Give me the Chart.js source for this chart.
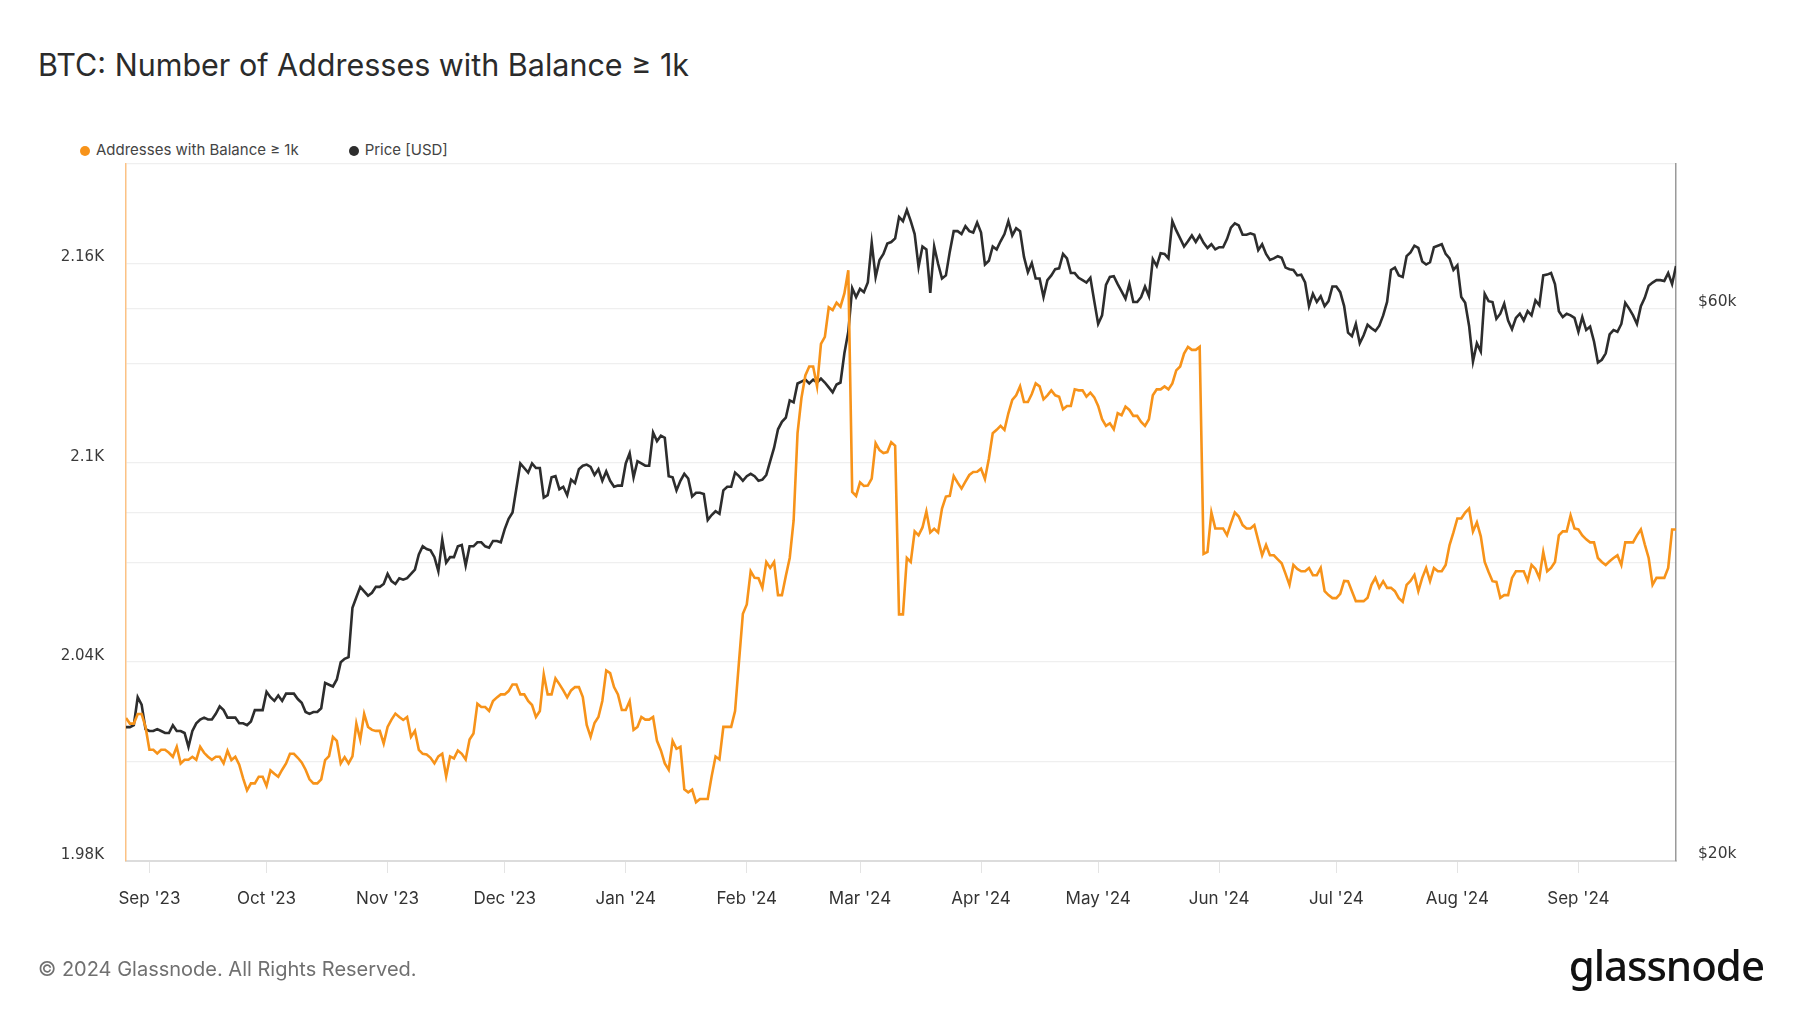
<!DOCTYPE html>
<html>
<head>
<meta charset="utf-8">
<script src="https://cdn.jsdelivr.net/npm/chart.js@4.4.1/dist/chart.umd.min.js"></script>
<style>
  body { margin: 0; width: 1800px; height: 1013px; background: #fff; position: relative; overflow: hidden; font-family: Inter, "Noto Sans", sans-serif; }
  #wrap { position: absolute; left: 0; top: 0; width: 1800px; height: 1013px; }
  #title { position: absolute; left: 38px; top: 46px; font-size: 30.5px; color: #2b2b2b; }
  #legend { position: absolute; left: 80px; top: 140px; font-size: 15px; color: #444; display: flex; gap: 50px; }
  #legend span.dot { display: inline-block; width: 10px; height: 10px; border-radius: 50%; margin-right: 6px; vertical-align: -0.5px; }
  #footer { position: absolute; left: 38px; top: 957px; font-size: 20px; color: #707070; }
  #logo { position: absolute; right: 36px; top: 936px; font-size: 42px; font-weight: 500; color: #111; letter-spacing: -1px; font-family: "Noto Sans", sans-serif; }
</style>
</head>
<body>
<div id="title">BTC: Number of Addresses with Balance ≥ 1k</div>
<div id="legend">
  <div><span class="dot" style="background:#f7931a"></span>Addresses with Balance ≥ 1k</div>
  <div><span class="dot" style="background:#2d2d2d"></span>Price [USD]</div>
</div>
<div id="wrap"><canvas id="myChart"></canvas></div>
<div id="footer">© 2024 Glassnode. All Rights Reserved.</div>
<div id="logo">glassnode</div>
<script>
// daily values starting 2023-08-26
const startDate = "2023-08-26";

const addresses = [
  2023.1, 2021.4, 2021.4, 2024.3, 2024.3, 2020.4, 2013.5, 2013.5, 2012.4, 2013.5,
  2013.5, 2012.6, 2011.4, 2014.4, 2009.4, 2010.5, 2010.5, 2011.4, 2010.5, 2014.4,
  2012.6, 2011.4, 2010.5, 2011.4, 2011.4, 2009.4, 2013.2, 2010.4, 2011.4, 2009.0,
  2004.9, 2001.3, 2003.4, 2003.4, 2005.4, 2005.4, 2002.6, 2007.3, 2006.3, 2005.4,
  2007.5, 2009.4, 2012.3, 2012.3, 2011.1, 2009.7, 2007.5, 2004.6, 2003.4, 2003.4,
  2004.6, 2010.4, 2011.6, 2017.4, 2016.2, 2009.4, 2011.3, 2009.4, 2011.5, 2021.4,
  2016.6, 2024.3, 2020.4, 2019.5, 2019.2, 2019.2, 2015.4, 2020.4, 2022.6, 2024.4,
  2023.4, 2022.5, 2023.4, 2017.4, 2019.2, 2013.5, 2012.3, 2012.1, 2011.1, 2009.4,
  2011.5, 2012.3, 2005.5, 2011.5, 2010.9, 2013.3, 2012.3, 2010.6, 2016.6, 2018.4,
  2027.4, 2026.4, 2026.4, 2025.2, 2028.2, 2029.3, 2030.2, 2030.2, 2031.2, 2033.2,
  2033.2, 2030.2, 2030.2, 2028.2, 2027.0, 2023.4, 2025.2, 2036.2, 2030.2, 2030.2,
  2035.0, 2033.3, 2031.4, 2029.3, 2031.4, 2032.4, 2032.4, 2029.4, 2021.0, 2017.4,
  2021.6, 2023.4, 2028.2, 2037.4, 2036.6, 2032.4, 2030.2, 2025.5, 2025.5, 2028.2,
  2019.5, 2020.4, 2023.4, 2022.6, 2022.6, 2023.4, 2016.2, 2013.3, 2009.4, 2007.5,
  2016.2, 2013.8, 2014.4, 2001.6, 2000.7, 2001.5, 1997.7, 1998.7, 1998.7, 1998.7,
  2005.5, 2011.5, 2010.6, 2020.4, 2020.4, 2020.4, 2025.2, 2040.0, 2054.5, 2057.3,
  2067.3, 2065.3, 2065.2, 2062.3, 2070.1, 2068.3, 2070.1, 2060.1, 2060.1, 2065.9,
  2071.3, 2082.6, 2108.9, 2119.5, 2126.3, 2129.0, 2129.0, 2123.0, 2135.8, 2137.9,
  2146.8, 2146.0, 2148.2, 2147.0, 2151.0, 2158.0, 2091.2, 2090.0, 2094.1, 2093.0,
  2093.1, 2095.2, 2105.9, 2103.8, 2102.9, 2103.2, 2106.2, 2105.1, 2054.3, 2054.3,
  2071.3, 2070.1, 2079.3, 2078.1, 2080.5, 2085.3, 2079.0, 2080.1, 2079.0, 2086.2,
  2089.8, 2090.0, 2096.0, 2094.0, 2092.2, 2094.3, 2096.3, 2097.2, 2097.3, 2098.2,
  2095.1, 2101.2, 2108.9, 2109.9, 2111.1, 2109.9, 2114.9, 2118.9, 2120.3, 2123.0,
  2118.3, 2118.3, 2120.7, 2123.9, 2123.0, 2119.1, 2120.3, 2121.8, 2120.3, 2119.9,
  2116.1, 2117.1, 2117.1, 2122.1, 2121.8, 2121.8, 2119.9, 2121.1, 2119.7, 2117.1,
  2113.1, 2111.1, 2111.9, 2110.1, 2114.9, 2114.3, 2116.9, 2115.9, 2114.1, 2114.1,
  2112.3, 2111.1, 2113.1, 2120.3, 2122.1, 2122.1, 2123.0, 2122.1, 2123.9, 2127.8,
  2129.0, 2132.9, 2134.9, 2134.0, 2134.0, 2134.9, 2072.5, 2073.1, 2085.0, 2080.2,
  2080.2, 2080.2, 2078.2, 2081.7, 2085.0, 2083.8, 2081.2, 2080.2, 2080.2, 2081.2,
  2076.6, 2072.1, 2075.2, 2072.1, 2072.1, 2070.9, 2069.7, 2066.5, 2063.2, 2069.2,
  2068.0, 2067.3, 2067.3, 2068.3, 2066.1, 2066.1, 2068.3, 2061.3, 2060.1, 2059.2,
  2059.2, 2060.5, 2064.4, 2064.3, 2061.3, 2058.3, 2058.3, 2058.3, 2059.3, 2063.2,
  2065.3, 2062.3, 2064.3, 2062.3, 2062.3, 2061.3, 2059.2, 2058.1, 2063.2, 2064.4,
  2066.2, 2061.3, 2065.3, 2068.3, 2064.3, 2068.3, 2067.3, 2067.3, 2069.2, 2075.2,
  2079.0, 2083.2, 2083.2, 2085.0, 2086.2, 2079.3, 2082.0, 2077.8, 2070.1, 2067.1,
  2064.3, 2064.1, 2059.3, 2060.1, 2060.1, 2065.3, 2067.3, 2067.3, 2067.3, 2064.4,
  2069.2, 2068.0, 2065.3, 2073.1, 2067.3, 2068.3, 2070.1, 2078.1, 2079.3, 2079.3,
  2084.1, 2080.2, 2079.9, 2078.1, 2076.9, 2076.0, 2076.0, 2071.3, 2070.1, 2069.2,
  2070.3, 2071.3, 2072.1, 2069.2, 2076.0, 2076.0, 2076.0, 2078.1, 2079.9, 2075.4,
  2071.3, 2063.2, 2065.3, 2065.3, 2065.3, 2068.3, 2079.9, 2079.9
];

// price in thousand USD
const priceK = [
  26.1, 26.1, 26.2, 27.7, 27.3, 26.0, 25.9, 25.9, 26.0, 25.9,
  25.8, 25.8, 26.2, 25.9, 25.9, 25.8, 25.1, 25.9, 26.3, 26.5,
  26.6, 26.5, 26.5, 26.8, 27.2, 27.0, 26.6, 26.6, 26.6, 26.3,
  26.3, 26.2, 26.4, 27.0, 27.0, 27.0, 28.0, 27.7, 27.5, 27.8,
  27.5, 27.9, 27.9, 27.9, 27.6, 27.4, 26.9, 26.8, 26.9, 26.9,
  27.1, 28.5, 28.4, 28.3, 28.7, 29.7, 29.9, 30.0, 33.1, 33.8,
  34.5, 34.2, 33.9, 34.1, 34.5, 34.5, 34.7, 35.4, 34.9, 34.7,
  35.1, 35.0, 35.1, 35.4, 35.7, 36.8, 37.4, 37.2, 37.1, 36.6,
  35.6, 37.9, 36.2, 36.6, 36.6, 37.4, 37.5, 36.0, 37.4, 37.4,
  37.7, 37.7, 37.4, 37.3, 37.8, 37.8, 37.7, 38.7, 39.5, 40.0,
  42.0, 44.1, 43.7, 43.3, 44.1, 43.7, 43.7, 41.2, 41.4, 42.9,
  43.0, 41.9, 42.1, 41.4, 42.7, 42.4, 43.6, 43.9, 44.0, 43.8,
  43.1, 43.6, 42.6, 43.4, 42.6, 42.1, 42.2, 42.2, 44.1, 45.0,
  42.9, 44.3, 44.1, 43.9, 43.9, 46.9, 46.1, 46.6, 46.4, 43.0,
  42.9, 41.8, 42.6, 43.2, 42.8, 41.3, 41.6, 41.6, 41.5, 39.4,
  39.8, 40.1, 39.9, 41.8, 42.1, 42.1, 43.3, 43.0, 42.6, 43.0,
  43.2, 43.0, 42.6, 42.7, 43.1, 44.3, 45.5, 47.2, 47.9, 48.3,
  50.0, 49.8, 51.7, 51.9, 52.1, 51.7, 52.1, 51.8, 52.2, 51.8,
  51.3, 50.8, 51.6, 51.8, 54.9, 57.3, 62.5, 61.4, 62.4, 62.0,
  63.2, 68.4, 63.9, 66.1, 66.9, 68.3, 68.5, 69.0, 72.0, 71.4,
  73.0, 71.4, 69.6, 65.2, 67.9, 67.5, 61.9, 67.9, 65.6, 63.7,
  64.1, 67.2, 70.0, 70.0, 69.6, 70.7, 70.0, 69.8, 71.2, 69.8,
  65.5, 66.0, 67.9, 67.5, 68.6, 69.6, 71.4, 69.4, 70.4, 70.0,
  66.5, 64.5, 65.7, 63.7, 63.7, 61.4, 63.5, 64.1, 64.9, 65.0,
  66.9, 66.3, 64.4, 64.4, 63.8, 63.5, 63.2, 63.8, 60.9, 58.2,
  59.2, 62.9, 63.9, 64.0, 63.0, 62.1, 61.2, 63.0, 60.8, 60.8,
  61.4, 62.7, 61.5, 66.2, 65.3, 67.0, 66.9, 66.3, 71.4, 70.1,
  69.0, 67.9, 68.6, 69.4, 68.5, 69.4, 68.4, 67.7, 68.2, 67.5,
  67.8, 67.8, 68.9, 70.5, 71.1, 70.8, 69.5, 69.5, 69.7, 69.5,
  67.4, 68.2, 66.9, 66.1, 66.3, 66.6, 66.4, 65.1, 64.9, 64.8,
  64.1, 64.2, 63.2, 60.3, 61.8, 60.8, 61.5, 60.3, 60.9, 62.7,
  62.7, 62.0, 60.3, 57.2, 56.8, 58.2, 56.0, 56.9, 58.1, 57.7,
  57.4, 58.0, 59.2, 60.8, 64.8, 65.1, 64.1, 63.9, 66.6, 67.1,
  68.0, 67.7, 65.9, 65.5, 65.8, 67.8, 68.0, 68.2, 66.9, 66.3,
  64.8, 65.4, 61.4, 60.7, 58.0, 54.0, 56.0, 55.1, 61.8, 60.9,
  60.8, 58.8, 59.4, 60.6, 58.6, 57.6, 58.9, 59.4, 58.6, 59.7,
  59.2, 61.0, 60.4, 64.1, 64.2, 64.4, 63.0, 59.7, 59.0, 59.4,
  59.2, 58.9, 57.3, 59.0, 57.5, 57.9, 56.2, 53.9, 54.2, 54.9,
  57.0, 57.5, 57.3, 58.2, 60.7, 60.0, 59.2, 58.2, 60.3, 61.3,
  62.8, 63.2, 63.5, 63.5, 63.4, 64.4, 63.0, 65.3
];

const monthStarts = ["2023-09-01", "2023-10-01", "2023-11-01", "2023-12-01", "2024-01-01", "2024-02-01",
  "2024-03-01", "2024-04-01", "2024-05-01", "2024-06-01", "2024-07-01", "2024-08-01", "2024-09-01"];
const monthLabels = ["Sep '23", "Oct '23", "Nov '23", "Dec '23", "Jan '24", "Feb '24",
  "Mar '24", "Apr '24", "May '24", "Jun '24", "Jul '24", "Aug '24", "Sep '24"];

const leftTicks = [1980, 2010, 2040, 2070, 2100, 2130, 2160, 2190];
const leftLabels = ["1.98K", "", "2.04K", "", "2.1K", "", "2.16K", ""];
const rightTicks = [20, 40, 60];
const rightLabels = ["$20k", "", "$60k"];

const dayMs = 86400000;
const t0 = Date.parse(startDate);
const monthPos = monthStarts.map(d => Math.round((Date.parse(d) - t0) / dayMs));
const lastDay = addresses.length - 1;

const addrPts = addresses.map((v, i) => ({ x: i, y: v }));
const pricePts = priceK.map((v, i) => ({ x: i, y: v }));

new Chart("myChart", {
  type: "line",
  data: {
    datasets: [
      {
        label: "Addresses with Balance ≥ 1k",
        data: addrPts,
        yAxisID: "yL",
        borderColor: "#f7931a",
        borderWidth: 2.6,
        pointRadius: 0,
        tension: 0
      },
      {
        label: "Price [USD]",
        data: pricePts,
        yAxisID: "yR",
        borderColor: "#2d2d2d",
        borderWidth: 2.6,
        pointRadius: 0,
        tension: 0
      }
    ]
  },
  options: {
    responsive: true,
    maintainAspectRatio: false,
    animation: false,
    devicePixelRatio: 1,
    layout: { padding: { top: 164, bottom: 92, left: 0, right: 0 } },
    plugins: { legend: { display: false }, tooltip: { enabled: false } },
    scales: {
      x: {
        type: "linear",
        min: 0,
        max: lastDay,
        afterBuildTicks: ax => { ax.ticks = monthPos.map(v => ({ value: v })); },
        afterFit: ax => { ax.height = 60; },
        ticks: {
          autoSkip: false,
          maxRotation: 0,
          padding: 16,
          color: "#333",
          font: { family: "Inter", size: 17 },
          callback: v => monthLabels[monthPos.indexOf(v)]
        },
        grid: { drawOnChartArea: false, drawTicks: true, tickLength: 12, color: "#e4e4e4" },
        border: { color: "#dcdcdc", width: 2 }
      },
      yL: {
        type: "linear",
        position: "left",
        min: 1980,
        max: 2190,
        afterBuildTicks: ax => { ax.ticks = leftTicks.map(v => ({ value: v })); },
        afterFit: ax => { ax.width = 126; },
        ticks: {
          padding: 22,
          labelOffset: -6,
          color: "#3a3a3a",
          font: { family: "DejaVu Sans", size: 15 },
          callback: v => leftLabels[leftTicks.indexOf(v)]
        },
        grid: { color: "#efefef", drawTicks: false, lineWidth: 1.2 },
        border: { color: "#fbc285", width: 1.5 }
      },
      yR: {
        type: "logarithmic",
        position: "right",
        min: 20,
        max: 80,
        afterBuildTicks: ax => { ax.ticks = rightTicks.map(v => ({ value: v })); },
        afterFit: ax => { ax.width = 124; },
        ticks: {
          padding: 22,
          labelOffset: -7,
          color: "#3a3a3a",
          font: { family: "DejaVu Sans", size: 15.5 },
          callback: v => rightLabels[rightTicks.indexOf(v)]
        },
        grid: { color: "#efefef", drawTicks: false, lineWidth: 1.2 },
        border: { color: "#9a9a9a", width: 1.5 }
      }
    }
  }
});
</script>
</body>
</html>
